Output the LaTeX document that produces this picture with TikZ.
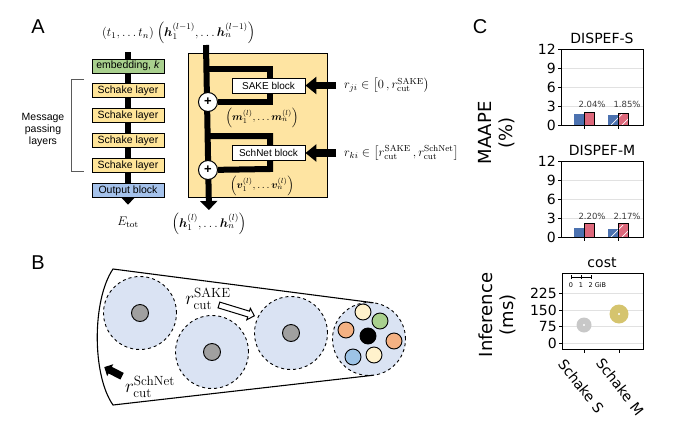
\RequirePackage{fix-cm}
\documentclass[tikz,border=0pt]{standalone}
\usepackage{amsmath,bm}
\usepackage[no-math]{fontspec}
\setmainfont{Liberation Sans}
\newfontfamily\mplfont{DejaVu Sans}
\usetikzlibrary{arrows.meta,shapes.arrows,backgrounds,positioning}

\definecolor{embgreen}{RGB}{169,208,142}
\definecolor{layeryellow}{RGB}{255,229,153}
\definecolor{boxyellow}{RGB}{254,228,162}
\definecolor{outblue}{RGB}{165,194,235}
\definecolor{bracketgray}{RGB}{90,90,90}
\definecolor{cellblue}{RGB}{218,227,243}
\definecolor{atomgray}{RGB}{160,160,160}
\definecolor{atomcream}{RGB}{255,242,204}
\definecolor{atomgreen}{RGB}{169,208,142}
\definecolor{atomorange}{RGB}{244,177,131}
\definecolor{atomblue}{RGB}{157,195,230}
\definecolor{barblue}{RGB}{76,114,176}
\definecolor{barred}{RGB}{221,104,123}
\definecolor{gridgray}{RGB}{225,225,225}
\definecolor{pctgray}{RGB}{60,60,60}
\definecolor{costgray}{RGB}{200,200,200}
\definecolor{costgold}{RGB}{213,196,110}

\tikzset{
  panellbl/.style={font=\fontsize{20}{20}\selectfont},
  layerbox/.style={draw, line width=0.9pt, minimum width=72pt, minimum height=14pt, inner sep=0pt, font=\fontsize{10.5}{12}\selectfont},
  blockbox/.style={draw, fill=white, line width=0.9pt, minimum width=73pt, minimum height=15pt, inner sep=0pt, font=\fontsize{10}{12}\selectfont},
  mathlbl/.style={inner sep=1pt, font=\fontsize{12.5}{14}\selectfont},
  veclbl/.style={inner sep=1pt, font=\fontsize{10.5}{12}\selectfont},
  trunk/.style={line width=6pt},
  trunktip/.style={trunk, -{Triangle[length=9pt,width=17pt]}},
  fatin/.style={line width=7.5pt, -{Triangle[length=11pt,width=17pt]}},
  plusnode/.style={circle, draw, fill=white, line width=1pt, minimum size=19pt, inner sep=0pt, font=\bfseries\fontsize{13}{13}\selectfont},
  cell/.style={circle, draw, dashed, fill=cellblue, line width=0.9pt, minimum size=73pt, inner sep=0pt, outer sep=0pt},
  atom/.style={circle, draw, line width=0.9pt, minimum size=16pt, inner sep=0pt},
  cutlbl/.style={inner sep=1pt, font=\fontsize{19}{19}\selectfont},
  openarrow/.style={single arrow, draw, fill=white, line width=1pt, minimum height=37pt, inner xsep=0pt, inner ysep=2.5pt, single arrow head extend=3pt},
  blackarrow/.style={single arrow, fill=black, minimum height=20pt, inner xsep=0pt, inner ysep=3.5pt, single arrow head extend=3pt},
  axlbl/.style={font=\mplfont\fontsize{18}{21}\selectfont, rotate=90, align=center},
  mpltitle/.style={font=\mplfont\fontsize{14}{14}\selectfont},
  ticklbl/.style={font=\mplfont\fontsize{14}{14}\selectfont, inner sep=1pt},
  pctlbl/.style={font=\mplfont\fontsize{8.5}{9}\selectfont, text=pctgray, inner sep=0pt},
}

\begin{document}
\begin{tikzpicture}[x=1pt, y=-1pt]
  \useasboundingbox (0,0) rectangle (680,426);

  % Panel A: network
  \node[panellbl] (labA) at (38,27) {A};
  \node[mathlbl] (tin) at (128,33) {$(t_1,\ldots t_n)$};
  \node[mathlbl] (hin) at (206,33) {$\left(\bm{h}_1^{(l-1)},\ldots\bm{h}_n^{(l-1)}\right)$};

  \node[layerbox, fill=embgreen] (emb) at (128,66) {embedding, \textit{k}};
  \node[layerbox, fill=layeryellow, below=10pt of emb] (l1) {Schake layer};
  \node[layerbox, fill=layeryellow, below=10pt of l1] (l2) {Schake layer};
  \node[layerbox, fill=layeryellow, below=10pt of l2] (l3) {Schake layer};
  \node[layerbox, fill=layeryellow, below=10pt of l3] (l4) {Schake layer};
  \node[layerbox, fill=outblue, below=10pt of l4] (outb) {Output block};
  \node[mathlbl] (etot) at (128,222) {$E_{\mathrm{tot}}$};

  \draw[bracketgray, line width=1pt] (84,79) -| (71,171) -- (84,171);
  \node[align=center, font=\fontsize{10.5}{12}\selectfont] (mpl) at (43,130) {Message\\passing\\layers};

  % Panel A: Schake layer
  \node[blockbox] (sake) at (268.5,85.5) {SAKE block};
  \node[blockbox] (schnet) at (268.5,153) {SchNet block};
  \node[plusnode] (p1) at (208,102) {+};
  \node[plusnode] (p2) at (208,170) {+};
  \node[veclbl] (mvec) at (262,118) {$\left(\bm{m}_1^{(l)},\ldots\bm{m}_n^{(l)}\right)$};
  \node[veclbl] (vvec) at (262,186) {$\left(\bm{v}_1^{(l)},\ldots\bm{v}_n^{(l)}\right)$};
  \node[mathlbl] (hout) at (209,224) {$\left(\bm{h}_1^{(l)},\ldots\bm{h}_n^{(l)}\right)$};
  \node[mathlbl, anchor=west] (rji) at (343,85.5) {$r_{ji}\in\left[0\,,r_{\mathrm{cut}}^{\mathrm{SAKE}}\right)$};
  \node[mathlbl, anchor=west] (rki) at (343,153) {$r_{ki}\in\left[r_{\mathrm{cut}}^{\mathrm{SAKE}}\,,r_{\mathrm{cut}}^{\mathrm{SchNet}}\right]$};
  \draw[fatin, shorten <=7pt] (rji.west) -- (sake.east);
  \draw[fatin, shorten <=7pt] (rki.west) -- (schnet.east);

  % Panel B: cutoffs
  \node[panellbl] (labB) at (38,263) {B};
  \node[cell] (c1) at (140,313) {};
  \node[cell] (c2) at (212,352) {};
  \node[cell] (c3) at (291,333) {};
  \node[cell] (c4) at (369,339) {};
  \node[atom, fill=atomgray, minimum size=17pt] (a1) at (c1) {};
  \node[atom, fill=atomgray, minimum size=17pt] (a2) at (c2) {};
  \node[atom, fill=atomgray, minimum size=17pt] (a3) at (c3) {};
  \node[atom, fill=black] (ac) at (368,336) {};
  \node[atom, fill=atomcream] (ak1) at (363,312) {};
  \node[atom, fill=atomgreen] (ak2) at (380,321) {};
  \node[atom, fill=atomorange] (ak3) at (346,330) {};
  \node[atom, fill=atomorange] (ak4) at (394,341) {};
  \node[atom, fill=atomblue] (ak5) at (353,357) {};
  \node[atom, fill=atomcream] (ak6) at (374,355) {};
  \coordinate (ctop) at (113,269);
  \coordinate (cbot) at (113,405);
  \draw[line width=1.1pt] (c4.83) -- (ctop) .. controls (92,300) and (92,375) .. (cbot) -- (c4.-83);
  \node[cutlbl] (rsake) at (208,299) {$r_{\mathrm{cut}}^{\mathrm{SAKE}}$};
  \node[openarrow, rotate=-17, anchor=tip] (sakearrow) at (255,316) {};
  \node[cutlbl] (rschnet) at (150,387) {$r_{\mathrm{cut}}^{\mathrm{SchNet}}$};
  \node[blackarrow, rotate=153, anchor=tip] (schnetarrow) at (104,367) {};

  % Panel C: benchmarks
  \node[panellbl] (labC) at (480,27) {C};
  \node[axlbl] (ylab1) at (497,133) {MAAPE\\(\%)};
  \node[axlbl] (ylab2) at (497,315) {Inference\\(ms)};

  \foreach \yo/\ttl/\ba/\ra/\bb/\rb in {0/DISPEF-S/1.7/2.04/1.55/1.85, 112/DISPEF-M/1.4/2.20/1.3/2.17}{
    \begin{scope}[shift={(0,\yo)}]
      \foreach \v in {3,6,9}
        \draw[gridgray, line width=0.8pt] (561,{125-\v*6.333}) -- (643,{125-\v*6.333});
      \fill[barblue] (573.5,125) rectangle (584,{125-\ba*6.333});
      \filldraw[fill=barred, draw=black, line width=0.8pt] (584,125) rectangle (594.5,{125-\ra*6.333});
      \fill[barblue] (607.5,125) rectangle (618,{125-\bb*6.333});
      \fill[barred] (618,125) rectangle (628.5,{125-\rb*6.333});
      \begin{scope}
        \clip (607.5,125) rectangle (628.5,{125-\rb*6.333});
        \draw[white, line width=0.7pt] (609,127) -- ++(14,-14);
        \draw[white, line width=0.7pt] (620,127) -- ++(14,-14);
      \end{scope}
      \draw[line width=0.8pt] (618,125) rectangle (628.5,{125-\rb*6.333});
      \draw[line width=0.8pt] (561,49) rectangle (643,125);
      \foreach \v in {0,3,6,9,12}{
        \draw[line width=0.8pt] (561,{125-\v*6.333}) -- ++(-3.5,0);
        \node[ticklbl, anchor=east] (tick\yo-\v) at (557,{125-\v*6.333}) {\v};
      }
      \foreach \x in {584,618}
        \draw[line width=0.8pt] (\x,125) -- ++(0,3.5);
      \node[mpltitle] (title\yo) at (602,38) {\ttl};
      \node[pctlbl] (pcta\yo) at (592,104) {\ra\%};
      \node[pctlbl] (pctb\yo) at (627,104) {\rb\%};
    \end{scope}
  }

  % cost panel
  \foreach \v in {0,75,150,225}
    \draw[gridgray, line width=0.8pt] (562,{343-\v*0.22}) -- (643,{343-\v*0.22});
  \draw[line width=0.8pt] (562,273) rectangle (643,349);
  \foreach \v in {0,75,150,225}{
    \draw[line width=0.8pt] (562,{343-\v*0.22}) -- ++(-3.5,0);
    \node[ticklbl, anchor=east] (ctick\v) at (558,{343-\v*0.22}) {\v};
  }
  \foreach \x in {584,619}
    \draw[line width=0.8pt] (\x,349) -- ++(0,3.5);
  \node[mpltitle] (costtitle) at (602,263) {cost};
  \node[circle, fill=costgray, minimum size=15pt, inner sep=0pt] (ptS) at (584,325) {};
  \node[circle, fill=costgold, minimum size=19pt, inner sep=0pt] (ptM) at (619,314) {};
  \fill[white] (ptS) circle[radius=1.2pt];
  \fill[white] (ptM) circle[radius=1.2pt];
  \draw[line width=0.7pt] (571,277) -- (591,277);
  \foreach \x in {571,581,591}
    \draw[line width=0.7pt] (\x,275) -- (\x,279);
  \node[font=\mplfont\fontsize{6.5}{7}\selectfont, inner sep=0pt] (gib0) at (571,285) {0};
  \node[font=\mplfont\fontsize{6.5}{7}\selectfont, inner sep=0pt] (gib1) at (581,285) {1};
  \node[font=\mplfont\fontsize{6.5}{7}\selectfont, inner sep=0pt, anchor=west] (gib2) at (588.5,285) {2 GiB};
  \node[ticklbl, rotate=-52] (xlabS) at (581,386) {Schake S};
  \node[ticklbl, rotate=-52] (xlabM) at (620,387) {Schake M};

  \begin{pgfonlayer}{background}
    \node[draw, fill=boxyellow, line width=0.9pt, minimum width=139pt, minimum height=144pt, inner sep=0pt] (mpbox) at (257.5,125) {};
    \draw[trunktip, shorten <=12pt, shorten >=11pt] (tin.south) -- (etot.north);
    \draw[trunktip, shorten >=2pt] (hin.south) -- (hout.north);
    \draw[trunk] (208,69) -| (270,102) -- (p1);
    \draw[trunk] (208,136) -| (270,169) -- (p2);
  \end{pgfonlayer}
\end{tikzpicture}
\end{document}
